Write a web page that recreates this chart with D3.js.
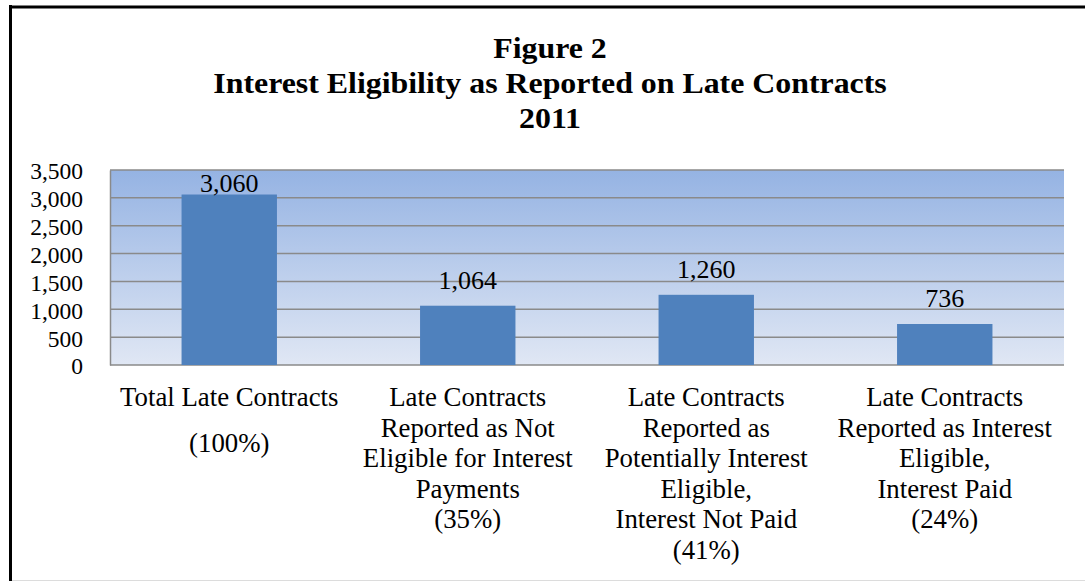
<!DOCTYPE html>
<html>
<head>
<meta charset="utf-8">
<script src="https://cdn.jsdelivr.net/npm/d3@7"></script>
<style>
  body { margin: 0; background: #fff; }
  svg { display: block; font-family: "Liberation Serif", "Times New Roman", serif; }
</style>
</head>
<body>
<div id="chart"></div>
<script>
// ************ data ************
const categories = ["total", "notEligible", "notPaid", "paid"]
const values = [3060, 1064, 1260, 736]
const categoryLabels = [
  ["Total Late Contracts", "", "(100%)"],
  ["Late Contracts", "Reported as Not", "Eligible for Interest", "Payments", "(35%)"],
  ["Late Contracts", "Reported as", "Potentially Interest", "Eligible,", "Interest Not Paid", "(41%)"],
  ["Late Contracts", "Reported as Interest", "Eligible,", "Interest Paid", "(24%)"]
]
const yTicks = [0, 500, 1000, 1500, 2000, 2500, 3000, 3500]
const titleLines = ["Figure 2", "Interest Eligibility as Reported on Late Contracts", "2011"]

const W = 1085
const H = 581
const plot = { left: 110, right: 1064, top: 170, bottom: 365 }

const svg = d3.select("#chart")
  .append("svg")
  .attr("width", W)
  .attr("height", H)

// gradient for plot background
const grad = svg.append("defs")
  .append("linearGradient")
  .attr("id", "bg")
  .attr("x1", 0).attr("y1", 0)
  .attr("x2", 0).attr("y2", 1)
grad.append("stop").attr("offset", "0%").attr("stop-color", "#95b3e3")
grad.append("stop").attr("offset", "100%").attr("stop-color", "#e0e7f4")

const x = d3.scaleBand()
  .domain(categories)
  .range([plot.left, plot.right])
  .paddingInner(0.6)
  .paddingOuter(0.3)

const y = d3.scaleLinear()
  .domain([0, 3500])
  .range([plot.bottom, plot.top])

// frame
svg.append("line")
  .attr("x1", 10.5).attr("x2", 10.5)
  .attr("y1", 5).attr("y2", H)
  .attr("stroke", "#000").attr("stroke-width", 3)
svg.append("line")
  .attr("x1", 9).attr("x2", W)
  .attr("y1", 7).attr("y2", 7)
  .attr("stroke", "#000").attr("stroke-width", 3)
svg.append("line")
  .attr("x1", 12).attr("x2", W)
  .attr("y1", 580.5).attr("y2", 580.5)
  .attr("stroke", "#dcdcdc").attr("stroke-width", 1)

// title (a bit wider than the font, like the original)
svg.append("text")
  .attr("transform", "translate(550,0) scale(1.08,1)")
  .attr("y", 58)
  .attr("text-anchor", "middle")
  .style("font-size", "29.5px")
  .style("font-weight", "bold")
  .selectAll("tspan")
  .data(titleLines)
  .enter()
  .append("tspan")
  .attr("x", 0)
  .attr("dy", (d, i) => i === 0 ? 0 : 35)
  .text(d => d)

// plot background
svg.append("rect")
  .attr("x", plot.left)
  .attr("y", plot.top)
  .attr("width", plot.right - plot.left)
  .attr("height", plot.bottom - plot.top)
  .attr("fill", "url(#bg)")

// gridlines
svg.append("g")
  .attr("class", "grid")
  .selectAll("line")
  .data(yTicks)
  .enter()
  .append("line")
  .attr("x1", plot.left)
  .attr("x2", plot.right)
  .attr("y1", d => y(d))
  .attr("y2", d => y(d))
  .attr("stroke", "#8a8a8a")
  .attr("stroke-width", 1.5)

// y axis
const yAxis = d3.axisLeft(y)
  .tickValues(yTicks)
  .tickSize(0)
  .tickPadding(27)
  .tickFormat(d3.format(","))

const gy = svg.append("g")
  .attr("transform", "translate(" + plot.left + ",0)")
  .call(yAxis)
gy.select(".domain").attr("stroke", "#8a8a8a").attr("stroke-width", 1.5)
gy.selectAll("text")
  .style("font-family", "Liberation Serif, serif")
  .style("font-size", "23.5px")
  .attr("fill", "#000")
  .attr("dy", "0.38em")

// bars
svg.selectAll(".bar")
  .data(values)
  .enter()
  .append("rect")
  .attr("class", "bar")
  .attr("x", (d, i) => x(categories[i]))
  .attr("y", d => y(d))
  .attr("width", x.bandwidth())
  .attr("height", d => plot.bottom - y(d))
  .attr("fill", "#4f81bd")

// value labels
svg.selectAll(".value")
  .data(values)
  .enter()
  .append("text")
  .attr("class", "value")
  .attr("x", (d, i) => x(categories[i]) + x.bandwidth() / 2)
  .attr("y", d => Math.max(y(d) - 17, plot.top + 22))
  .attr("text-anchor", "middle")
  .style("font-size", "26px")
  .text(d => d3.format(",")(d))

// category labels
const lineH = 30.6
const cat = svg.selectAll(".cat")
  .data(categoryLabels)
  .enter()
  .append("text")
  .attr("class", "cat")
  .attr("text-anchor", "middle")
  .style("font-size", "26.8px")

cat.each(function(lines, i) {
  const cx = x(categories[i]) + x.bandwidth() / 2
  let yy = 406
  lines.forEach(function(line, j) {
    if (line === "") {
      yy += lineH * 0.5
      return
    }
    d3.select(this).append("tspan")
      .attr("x", cx)
      .attr("y", yy)
      .text(line)
    yy += lineH
  }, this)
})
</script>
</body>
</html>
